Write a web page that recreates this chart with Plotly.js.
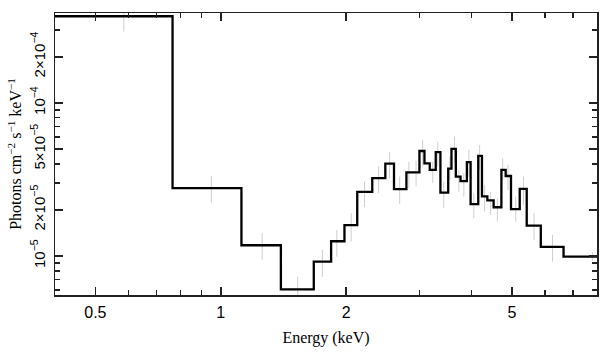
<!DOCTYPE html>
<html>
<head>
<meta charset="utf-8">
<script src="https://cdn.plot.ly/plotly-3.0.1.min.js"></script>
<style>html,body{margin:0;padding:0;background:#fff;}#chart{width:609px;height:357px;}</style>
</head>
<body>
<div id="chart"></div>
<script>
// Model step: bin edges (keV) and levels (photons cm^-2 s^-1 keV^-1)
var binEdges = [0.40, 0.766, 1.121, 1.394, 1.672, 1.840, 1.981, 2.126, 2.310, 2.483, 2.605, 2.790, 2.998, 3.083, 3.174, 3.281, 3.367, 3.515, 3.579, 3.666, 3.763, 3.897, 3.978, 4.150, 4.236, 4.364, 4.518, 4.716, 4.829, 4.973, 5.219, 5.425, 5.864, 6.65, 8.9];
var binLevels = [3.68e-4, 2.77e-5, 1.175e-5, 6.05e-6, 9.18e-6, 1.248e-5, 1.588e-5, 2.62e-5, 3.22e-5, 4.01e-5, 2.73e-5, 3.52e-5, 4.85e-5, 4.03e-5, 3.65e-5, 4.77e-5, 2.59e-5, 3.72e-5, 5.0e-5, 3.30e-5, 3.08e-5, 4.10e-5, 2.18e-5, 4.51e-5, 2.45e-5, 2.31e-5, 2.08e-5, 3.65e-5, 3.33e-5, 2.02e-5, 2.74e-5, 1.58e-5, 1.146e-5, 9.9e-6];

// Data error bars: energy, lower and upper values
var errEnergy = [0.585, 0.949, 1.257, 1.530, 1.754, 1.899, 2.056, 2.213, 2.392, 2.542, 2.688, 2.828, 2.943, 3.052, 3.227, 3.317, 3.429, 3.546, 3.640, 3.727, 3.832, 3.940, 4.050, 4.181, 4.298, 4.443, 4.612, 4.750, 4.891, 5.105, 5.327, 5.649, 6.256, 7.80];
var errLow = [2.92e-4, 2.23e-5, 9.42e-6, 4.95e-6, 7.32e-6, 9.89e-6, 1.240e-5, 2.08e-5, 2.57e-5, 3.22e-5, 2.19e-5, 2.77e-5, 2.84e-5, 3.84e-5, 2.99e-5, 3.84e-5, 2.05e-5, 3.14e-5, 4.04e-5, 2.63e-5, 2.44e-5, 3.30e-5, 1.763e-5, 3.65e-5, 1.948e-5, 1.853e-5, 1.675e-5, 3.14e-5, 2.70e-5, 1.675e-5, 2.15e-5, 1.272e-5, 9.18e-6, 9.3e-6];
var errHigh = [4.71e-4, 3.34e-5, 1.407e-5, 7.32e-6, 1.094e-5, 1.479e-5, 1.901e-5, 3.06e-5, 3.84e-5, 4.76e-5, 3.30e-5, 4.13e-5, 4.20e-5, 5.73e-5, 4.13e-5, 5.59e-5, 3.06e-5, 4.46e-5, 6.02e-5, 3.65e-5, 3.47e-5, 4.93e-5, 2.57e-5, 5.31e-5, 2.91e-5, 2.63e-5, 2.38e-5, 4.35e-5, 3.93e-5, 2.44e-5, 3.30e-5, 1.901e-5, 1.372e-5, 1.06e-5];

// Axis ticks
var xTickVals = [0.5, 1, 2, 5];
var xTickText = ["0.5", "1", "2", "5"];
var xMinorVals = [0.4, 0.6, 0.7, 0.8, 0.9, 3, 4, 6, 7, 8];
var yTickVals = [1e-5, 2e-5, 5e-5, 1e-4, 2e-4];
var yTickText = ["10<sup>\u22125</sup>", "2\u00d710<sup>\u22125</sup>", "5\u00d710<sup>\u22125</sup>", "10<sup>\u22124</sup>", "2\u00d710<sup>\u22124</sup>"];
var yMinorVals = [6e-6, 7e-6, 8e-6, 9e-6, 3e-5, 4e-5, 6e-5, 7e-5, 8e-5, 9e-5, 3e-4];

var stepY = binLevels.concat([binLevels[binLevels.length - 1]]);
var errMid = errLow.map(function (lo, i) { return Math.sqrt(lo * errHigh[i]); });
var errPlus = errHigh.map(function (hi, i) { return hi - errMid[i]; });
var errMinus = errLow.map(function (lo, i) { return errMid[i] - lo; });

var traces = [
  {
    type: 'scatter', mode: 'markers', x: errEnergy, y: errMid,
    marker: {size: 1, opacity: 0},
    error_y: {type: 'data', symmetric: false, array: errPlus, arrayminus: errMinus,
              color: '#cfcfcf', thickness: 1, width: 0},
    hoverinfo: 'skip', showlegend: false
  },
  {
    type: 'scatter', mode: 'lines', x: binEdges, y: stepY,
    line: {shape: 'hv', color: '#000', width: 2.3},
    showlegend: false
  }
];

var axisCommon = {
  showline: true, linecolor: '#222', linewidth: 1.5, mirror: 'ticks',
  ticks: 'inside', ticklen: 8, tickwidth: 1.5, tickcolor: '#222',
  showgrid: false, zeroline: false
};

var layout = {
  width: 609, height: 357,
  margin: {l: 55, r: 12, t: 13, b: 62},
  paper_bgcolor: '#fff', plot_bgcolor: '#fff',
  showlegend: false,
  xaxis: Object.assign({}, axisCommon, {
    type: 'log', range: [Math.log10(0.4), Math.log10(8.0)],
    tickmode: 'array', tickvals: xTickVals, ticktext: xTickText,
    tickfont: {family: 'Liberation Sans, Arial, sans-serif', size: 16, color: '#000'},
    ticklabelstandoff: 2,
    minor: {tickmode: 'array', tickvals: xMinorVals, ticks: 'inside', ticklen: 5, tickwidth: 1.5, tickcolor: '#222'},
    title: {text: 'Energy (keV)', font: {family: 'Liberation Serif, Times New Roman, serif', size: 16, color: '#000'}, standoff: 12}
  }),
  yaxis: Object.assign({}, axisCommon, {
    type: 'log', range: [-5.255, -3.413],
    tickmode: 'array', tickvals: yTickVals, ticktext: yTickText, tickangle: -90,
    tickfont: {family: 'Liberation Sans, Arial, sans-serif', size: 15, color: '#000'},
    ticklabelstandoff: 3,
    minor: {tickmode: 'array', tickvals: yMinorVals, ticks: 'inside', ticklen: 5, tickwidth: 1.5, tickcolor: '#222'},
    title: {text: 'Photons cm<sup>\u22122</sup> s<sup>\u22121</sup> keV<sup>\u22121</sup>', font: {family: 'Liberation Serif, Times New Roman, serif', size: 16, color: '#000'}, standoff: 2}
  })
};

Plotly.newPlot('chart', traces, layout, {staticPlot: true, displayModeBar: false});
</script>
</body>
</html>
